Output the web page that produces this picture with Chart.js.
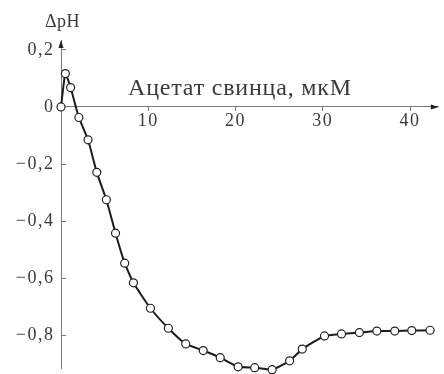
<!DOCTYPE html>
<html>
<head>
<meta charset="utf-8">
<script src="https://cdn.jsdelivr.net/npm/chart.js@4.4.1/dist/chart.umd.min.js"></script>
<style>
  html, body { margin: 0; padding: 0; background: #fff; }
  #wrap { width: 444px; height: 374px; }
</style>
</head>
<body>
<div id="wrap"><canvas id="c" width="444" height="374"></canvas></div>
<script>
// Lead acetate concentration, µM
const leadAcetate = [0, 0.5, 1.1, 2.05, 3.1, 4.1, 5.2, 6.25, 7.3, 8.3, 10.25, 12.3, 14.3, 16.3, 18.25, 20.3, 22.2, 24.2, 26.2, 27.65, 30.2, 32.15, 34.2, 36.2, 38.25, 40.2, 42.3];
// ΔpH
const deltaPH = [0, 0.117, 0.068, -0.037, -0.115, -0.229, -0.325, -0.442, -0.547, -0.616, -0.705, -0.775, -0.830, -0.853, -0.878, -0.910, -0.913, -0.920, -0.889, -0.848, -0.802, -0.795, -0.790, -0.785, -0.785, -0.783, -0.782];
const xTicks = [10, 20, 30, 40];
const yTicks = [0.2, 0, -0.2, -0.4, -0.6, -0.8];
const xTitle = 'Ацетат свинца, мкМ';
const yTitle = 'ΔpH';

const FONT = '"Liberation Serif", "DejaVu Serif", serif';
const TXT = '#3a3a3a';
const AXIS = '#7a7a7a';

function fmtY(v) {
  if (Math.abs(v) < 1e-9) return '0';
  return (v < 0 ? '\u2212' : '') + Math.abs(v).toFixed(1).replace('.', ',');
}

const decor = {
  id: 'decor',
  beforeDraw(chart) { chart.ctx.letterSpacing = '1.5px'; },
  beforeDatasetsDraw(chart) { chart.ctx.letterSpacing = '0px'; },
  afterDraw(chart) {
    const ctx = chart.ctx;
    const xs = chart.scales.x, ys = chart.scales.y;
    const x0 = xs.getPixelForValue(0);
    const y0 = ys.getPixelForValue(0);
    const ca = chart.chartArea;
    ctx.save();
    ctx.fillStyle = '#222';
    // arrow on y axis (top)
    ctx.beginPath();
    ctx.moveTo(x0, ca.top);
    ctx.lineTo(x0 - 2.5, ca.top + 8);
    ctx.lineTo(x0 + 2.5, ca.top + 8);
    ctx.closePath();
    ctx.fill();
    // arrow on x axis (right)
    ctx.beginPath();
    ctx.moveTo(ca.right, y0);
    ctx.lineTo(ca.right - 8, y0 - 2.5);
    ctx.lineTo(ca.right - 8, y0 + 2.5);
    ctx.closePath();
    ctx.fill();
    // titles
    ctx.fillStyle = TXT;
    ctx.textBaseline = 'alphabetic';
    ctx.textAlign = 'left';
    ctx.letterSpacing = '0.5px';
    ctx.font = '18px ' + FONT;
    ctx.fillText(yTitle, x0 - 16, ca.top - 13);
    ctx.letterSpacing = '0.8px';
    ctx.font = '24px ' + FONT;
    ctx.fillText(xTitle, x0 + 67, y0 - 12);
    ctx.letterSpacing = '0px';
    ctx.restore();
  }
};

new Chart(document.getElementById('c'), {
  type: 'line',
  data: {
    datasets: [{
      data: leadAcetate.map((x, i) => ({ x: x, y: deltaPH[i] })),
      borderColor: '#1c1c1c',
      borderWidth: 2,
      pointRadius: 4,
      pointBorderWidth: 1.2,
      pointBackgroundColor: '#ffffff',
      pointBorderColor: '#222',
      tension: 0.15,
      clip: 8
    }]
  },
  options: {
    responsive: false,
    devicePixelRatio: 1,
    animation: false,
    layout: { padding: { top: 40, right: 3, left: 0, bottom: 0 } },
    plugins: { legend: { display: false }, tooltip: { enabled: false }, title: { display: false } },
    scales: {
      x: {
        type: 'linear',
        min: 0,
        max: 43.3,
        position: { y: 0 },
        afterBuildTicks: s => { s.ticks = xTicks.map(v => ({ value: v })); },
        ticks: {
          color: TXT,
          font: { family: FONT, size: 18 },
          padding: 0,
          maxRotation: 0,
          autoSkip: false
        },
        grid: { drawOnChartArea: false, drawTicks: true, tickLength: 4, color: AXIS, lineWidth: 1 },
        border: { display: true, color: AXIS, width: 1 }
      },
      y: {
        type: 'linear',
        min: -0.917,
        max: 0.2345,
        position: 'left',
        afterBuildTicks: s => { s.ticks = yTicks.map(v => ({ value: v })); },
        afterFit: s => { s.width = 61; s.paddingTop = 0; s.paddingBottom = 0; },
        ticks: {
          color: TXT,
          font: { family: FONT, size: 18 },
          padding: 11.5,
          autoSkip: false,
          callback: v => fmtY(v)
        },
        grid: { drawOnChartArea: false, drawTicks: true, tickLength: -5, color: AXIS, lineWidth: 1 },
        border: { display: true, color: AXIS, width: 1 }
      }
    }
  },
  plugins: [decor]
});
</script>
</body>
</html>
